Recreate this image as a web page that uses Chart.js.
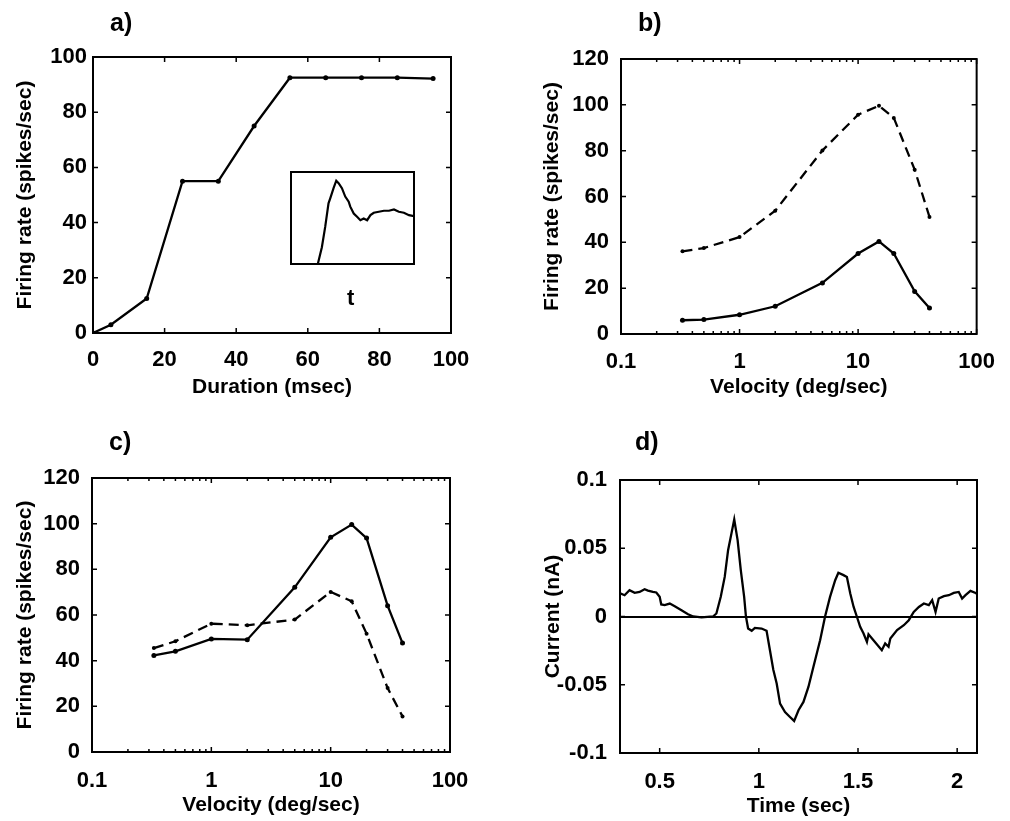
<!DOCTYPE html>
<html>
<head>
<meta charset="utf-8">
<script src="https://cdn.jsdelivr.net/npm/chart.js@4/dist/chart.umd.min.js"></script>
<style>
  body { margin:0; background:#fff; }
  #wrap { position:relative; width:1010px; height:821px; overflow:hidden; font-family:"Liberation Sans", Arial, sans-serif; }
  canvas { position:absolute; }
  .lbl { position:absolute; font-weight:bold; font-size:25px; line-height:25px; color:#000; }
  .t { position:absolute; font-weight:bold; font-size:22px; line-height:22px; color:#000; }
</style>
</head>
<body>
<div id="wrap">
  <canvas id="pa" width="505" height="400" style="left:0;top:0;"></canvas>
  <canvas id="pb" width="505" height="400" style="left:505px;top:0;"></canvas>
  <canvas id="pc" width="505" height="411" style="left:0;top:410px;"></canvas>
  <canvas id="pd" width="505" height="411" style="left:505px;top:410px;"></canvas>
  <canvas id="inset" width="125" height="94" style="left:290px;top:171px;"></canvas>
  <div class="lbl" style="left:110px;top:10px;">a)</div>
  <div class="lbl" style="left:638px;top:10px;">b)</div>
  <div class="lbl" style="left:109px;top:429px;">c)</div>
  <div class="lbl" style="left:635px;top:429px;">d)</div>
  <div class="t" style="left:347px;top:287px;">t</div>
</div>
<script>
// panel a: response vs stimulus duration
const aDuration = [0, 5, 15, 25, 35, 45, 55, 65, 75, 85, 95];
const aRate = [0, 3, 12.5, 55, 55, 75, 92.5, 92.5, 92.5, 92.5, 92.2];
const aTicksX = [0, 20, 40, 60, 80, 100];
const aTicksY = [0, 20, 40, 60, 80, 100];

// inset (arbitrary units)
const insetT = [0, 21.8, 25.1, 27.8, 30.5, 31.9, 34.6, 36.8, 38.7, 41.4, 44.1, 46.9, 48.2, 51.0, 53.7,
  56.4, 59.1, 61.9, 64.6, 67.3, 71.4, 75.5, 79.6, 83.7, 87.7, 91.8, 95.9, 100];
const insetResp = [0, 0, 18.3, 40.3, 65.9, 71.4, 82.4, 90.5, 87.9, 82.4, 73.3, 67.8, 62.3, 54.9, 51.3,
  47.6, 49.5, 47.6, 53.1, 55.7, 56.8, 57.9, 57.9, 59.3, 56.8, 55.7, 53.1, 52.0];

// panels b, c: velocity tuning
const velocity = [0.33, 0.5, 1, 2, 5, 10, 15, 20, 30, 40];
const bSolid = [6.0, 6.3, 8.4, 12.1, 22.3, 35.1, 40.4, 35.1, 18.6, 11.3];
const bDashed = [36.1, 37.5, 42.3, 53.8, 80.1, 95.7, 99.6, 94.3, 71.7, 51.1];
const cSolid = [42.3, 44.1, 49.5, 49.2, 72.1, 94.0, 99.6, 93.7, 64.1, 47.7];
const cDashed = [45.5, 48.5, 56.2, 55.5, 58.0, 70.1, 66.0, 51.8, 28.0, 15.6];
const velTicks = [0.1, 1, 10, 100];
const velMinor = [0.2,0.3,0.4,0.5,0.6,0.7,0.8,0.9, 2,3,4,5,6,7,8,9, 20,30,40,50,60,70,80,90];
const rateTicks = [0, 20, 40, 60, 80, 100, 120];

// panel d: current trace
const dTime = [0.301, 0.323, 0.348, 0.374, 0.399, 0.424, 0.441, 0.466, 0.483, 0.5, 0.508, 0.525, 0.551,
  0.576, 0.610, 0.643, 0.669, 0.711, 0.769, 0.786, 0.808, 0.828, 0.845, 0.862, 0.876, 0.893, 0.909,
  0.926, 0.935, 0.946, 0.964, 0.98, 1.014, 1.039, 1.056, 1.073, 1.090, 1.107, 1.132, 1.157, 1.178,
  1.200, 1.225, 1.250, 1.275, 1.309, 1.334, 1.359, 1.385, 1.401, 1.427, 1.444, 1.461, 1.478, 1.494,
  1.511, 1.528, 1.545, 1.553, 1.578, 1.620, 1.637, 1.654, 1.663, 1.697, 1.731, 1.756, 1.781, 1.807,
  1.832, 1.857, 1.874, 1.891, 1.907, 1.933, 1.958, 1.983, 2.008, 2.025, 2.042, 2.067, 2.093, 2.1];
const dCurrent = [0.0169, 0.0156, 0.0193, 0.0173, 0.018, 0.020, 0.019, 0.018, 0.0176, 0.0144, 0.0088,
  0.0083, 0.0095, 0.0075, 0.0046, 0.0017, 0, -0.0007, 0, 0.0022, 0.0144, 0.029, 0.0486, 0.0609, 0.0711,
  0.056, 0.034, 0.0144, 0, -0.0088, -0.0105, -0.0083, -0.0088, -0.0105, -0.0247, -0.039, -0.0491,
  -0.0638, -0.070, -0.0736, -0.0765, -0.0687, -0.0626, -0.0516, -0.037, -0.0174, 0, 0.0144, 0.0266,
  0.032, 0.0303, 0.029, 0.0169, 0.007, 0, -0.0076, -0.0125, -0.0186, -0.0130, -0.0174, -0.0247,
  -0.0198, -0.0222, -0.0161, -0.010, -0.0064, -0.0027, 0.0034, 0.007, 0.0095, 0.0083, 0.012, 0.0034,
  0.0132, 0.0149, 0.0156, 0.0173, 0.018, 0.0132, 0.0156, 0.0188, 0.0173, 0.0165];
const dTicksX = [0.5, 1, 1.5, 2];
const dTicksY = [-0.1, -0.05, 0, 0.05, 0.1];

const FONT = '"Liberation Sans", Arial, sans-serif';
const pts = (xs, ys) => xs.map((x, i) => ({x: x, y: ys[i]}));

// box round the plot with small inward ticks on all four sides
const frame = {
  id: 'frame',
  afterDatasetsDraw(chart, args, opts) {
    const {ctx, chartArea: a, scales} = chart;
    ctx.save();
    ctx.strokeStyle = '#000';
    ctx.lineWidth = 2;
    ctx.strokeRect(a.left, a.top, a.right - a.left, a.bottom - a.top);
    if (opts.ticks) {
      const x = scales.x, y = scales.y;
      ctx.lineWidth = 1.5;
      ctx.beginPath();
      const vt = (p, len) => { ctx.moveTo(p, a.bottom); ctx.lineTo(p, a.bottom - len); ctx.moveTo(p, a.top); ctx.lineTo(p, a.top + len); };
      const ht = (p, len) => { ctx.moveTo(a.left, p); ctx.lineTo(a.left + len, p); ctx.moveTo(a.right, p); ctx.lineTo(a.right - len, p); };
      x.ticks.forEach(t => vt(x.getPixelForValue(t.value), 5));
      (opts.minor || []).forEach(v => vt(x.getPixelForValue(v), 3));
      y.ticks.forEach(t => ht(y.getPixelForValue(t.value), 5));
      ctx.stroke();
    }
    ctx.restore();
  }
};

function panel(id, cfg) {
  const tickFont = {family: FONT, size: 22, weight: 'bold'};
  const titleFont = {family: FONT, size: 21, weight: 'bold'};
  new Chart(document.getElementById(id), {
    type: 'line',
    data: {datasets: cfg.datasets},
    options: {
      responsive: false,
      animation: false,
      layout: {padding: {top: cfg.top, right: cfg.right, left: 0, bottom: 0}},
      plugins: {legend: {display: false}, tooltip: {enabled: false}, frame: {ticks: true, minor: cfg.minor}},
      scales: {
        x: {
          type: cfg.xType, min: cfg.xMin, max: cfg.xMax,
          afterBuildTicks: s => { s.ticks = cfg.xTicks.map(v => ({value: v})); },
          afterFit: s => { s.height = cfg.xH; },
          grid: {display: false, drawTicks: false},
          border: {display: false},
          ticks: {color: '#000', font: tickFont, padding: cfg.xPad, maxRotation: 0, autoSkip: false, callback: v => String(v)},
          title: {display: true, text: cfg.xTitle, color: '#000', font: titleFont, padding: {top: 0, bottom: cfg.xTitlePad}}
        },
        y: {
          type: 'linear', min: cfg.yMin, max: cfg.yMax,
          afterBuildTicks: s => { s.ticks = cfg.yTicks.map(v => ({value: v})); },
          afterFit: s => { s.width = cfg.yW; },
          grid: {drawTicks: false, lineWidth: 2, color: c => (cfg.zeroLine && c.tick && c.tick.value === 0) ? '#000' : 'rgba(0,0,0,0)'},
          border: {display: false},
          ticks: {color: '#000', font: tickFont, padding: cfg.yPad, autoSkip: false, callback: v => String(v)},
          title: {display: true, text: cfg.yTitle, color: '#000', font: titleFont, padding: {top: cfg.yTitlePad, bottom: 0}}
        }
      }
    },
    plugins: [frame]
  });
}

const solid = (data) => ({data: data, borderColor: '#000', borderWidth: 2.3, pointRadius: 2.5, pointBackgroundColor: '#000', pointBorderWidth: 0, tension: 0});
const dashed = (data) => ({data: data, borderColor: '#000', borderWidth: 2.3, borderDash: [10, 6], pointRadius: 2, pointBackgroundColor: '#000', pointBorderWidth: 0, tension: 0});

panel('pa', {
  datasets: [solid(pts(aDuration, aRate))],
  xType: 'linear', xMin: 0, xMax: 100, xTicks: aTicksX, xTitle: 'Duration (msec)', xH: 67, xTitlePad: 0, xPad: 14,
  yMin: 0, yMax: 100, yTicks: aTicksY, yTitle: 'Firing rate (spikes/sec)', yW: 93, yPad: 6, yTitlePad: 13,
  top: 57, right: 54
});

panel('pb', {
  datasets: [solid(pts(velocity, bSolid)), dashed(pts(velocity, bDashed))],
  xType: 'logarithmic', xMin: 0.1, xMax: 100, xTicks: velTicks, minor: velMinor, xTitle: 'Velocity (deg/sec)', xH: 66, xTitlePad: 0, xPad: 15,
  yMin: 0, yMax: 120, yTicks: rateTicks, yTitle: 'Firing rate (spikes/sec)', yW: 116, yPad: 12, yTitlePad: 35,
  top: 59, right: 33
});

panel('pc', {
  datasets: [solid(pts(velocity, cSolid)), dashed(pts(velocity, cDashed))],
  xType: 'logarithmic', xMin: 0.1, xMax: 100, xTicks: velTicks, minor: velMinor, xTitle: 'Velocity (deg/sec)', xH: 69, xTitlePad: 3, xPad: 16,
  yMin: 0, yMax: 120, yTicks: rateTicks, yTitle: 'Firing rate (spikes/sec)', yW: 92, yPad: 12, yTitlePad: 13,
  top: 68, right: 55
});

panel('pd', {
  datasets: [{data: pts(dTime, dCurrent), borderColor: '#000', borderWidth: 2.3, pointRadius: 0, tension: 0}],
  xType: 'linear', xMin: 0.3, xMax: 2.1, xTicks: dTicksX, xTitle: 'Time (sec)', xH: 68, xTitlePad: 2, xPad: 16,
  yMin: -0.1, yMax: 0.1, yTicks: dTicksY, yTitle: 'Current (nA)', yW: 115, yPad: 13, yTitlePad: 36, zeroLine: true,
  top: 70, right: 33
});

// inset of panel a
new Chart(document.getElementById('inset'), {
  type: 'line',
  data: {datasets: [{data: pts(insetT, insetResp), borderColor: '#000', borderWidth: 2.2, pointRadius: 0, tension: 0}]},
  options: {
    responsive: false,
    animation: false,
    layout: {padding: 1},
    plugins: {legend: {display: false}, tooltip: {enabled: false}, frame: {ticks: false}},
    scales: {
      x: {type: 'linear', min: 0, max: 100, display: false},
      y: {type: 'linear', min: 0, max: 100, display: false}
    }
  },
  plugins: [frame]
});
</script>
</body>
</html>
